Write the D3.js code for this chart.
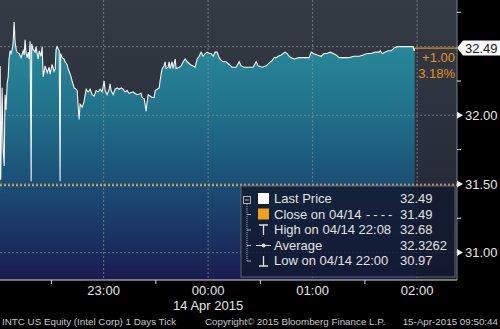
<!DOCTYPE html>
<html>
<head>
<meta charset="utf-8">
<script src="https://cdn.jsdelivr.net/npm/d3@7"></script>
<style>
  body { margin: 0; background: #000; }
  svg { display: block; font-family: "Liberation Sans", Arial, sans-serif; }
</style>
</head>
<body>
<div id="chart"></div>
<script>
// Intraday ticks, minutes after 22:00 (14 Apr) and price
const tickMinutes = [
  0, 0.6, 0.9, 1.7, 2.3, 2.9, 3.4, 4.0, 4.6, 5.2, 5.7, 6.3, 6.9, 7.5, 8.0, 8.6, 9.2, 9.8, 10.3, 11.5,
  12.6, 13.8, 14.4, 14.9, 15.5, 16.1, 16.7, 17.2, 17.8, 18.4, 18.7, 19.5, 20.7, 21.2, 21.8, 22.4, 23.0, 24.1, 24.7, 25.3,
  26.4, 27.6, 28.7, 29.3, 30.4, 31.6, 32.2, 32.7, 33.3, 34.5, 35.0, 35.3, 36.2, 37.3, 37.9, 39.0, 39.6, 40.8, 41.3, 41.9,
  43.1, 44.2, 44.8, 45.9, 46.5, 47.7, 48.8, 49.4, 50.0, 51.1, 52.3, 53.4, 54.5, 55.7, 56.8, 58.0, 59.1, 60.3, 60.9, 62.0,
  63.2, 63.7, 64.3, 65.5, 66.6, 67.8, 68.9, 70.1, 71.2, 72.3, 73.5, 74.6, 76.9, 79.2, 81.5, 82.1, 83.3, 84.4, 85.0, 85.6,
  86.7, 87.9, 89.0, 89.6, 90.7, 91.9, 92.4, 93.0, 93.6, 94.7, 95.3, 95.9, 97.0, 97.6, 98.2, 99.3, 99.9, 101.1, 101.6, 103.4,
  104.5, 105.7, 106.8, 108.0, 109.7, 111.4, 112.5, 113.7, 114.8, 116.0, 117.1, 118.3, 119.4, 120.6, 121.7, 122.9, 124.0, 125.2, 126.3, 127.5,
  128.6, 130.3, 132.1, 133.8, 136.1, 137.8, 139.0, 140.7, 143.5, 145.8, 147.6, 148.7, 151.0, 153.3, 155.0, 156.8, 157.9, 159.1, 160.2, 161.9,
  163.1, 164.2, 165.4, 166.5, 167.7, 169.4, 172.3, 175.1, 178.0, 179.2, 180.3, 182.6, 184.9, 186.6, 188.3, 190.1, 191.8, 193.5, 195.2, 198.1,
  201.0, 203.8, 206.7, 209.0, 211.3, 213.6, 215.9, 218.2, 218.8, 219.9, 221.6, 223.4, 225.1, 226.8, 228.5, 230.2, 232.0, 233.7, 235.4, 236.6,
  237.7, 238.3, 238.6
];
const tickPrices = [
  30.97, 32.36, 31.53, 32.20, 31.75, 31.63, 32.15, 32.04, 32.23, 32.28, 32.41, 32.47, 32.45, 32.48, 32.52, 32.68, 32.53, 32.48, 32.46, 32.45,
  32.42, 32.47, 32.44, 32.55, 32.45, 32.42, 32.46, 32.41, 32.54, 31.52, 32.52, 32.48, 32.46, 32.50, 32.45, 32.41, 32.47, 32.43, 32.50, 32.28,
  32.36, 32.31, 32.35, 32.30, 32.37, 32.32, 32.34, 32.48, 32.50, 32.47, 31.52, 32.45, 32.42, 32.41, 32.39, 32.37, 32.34, 32.30, 32.28, 32.25,
  32.20, 32.19, 32.18, 31.97, 32.08, 32.06, 32.10, 32.15, 32.19, 32.17, 32.19, 32.15, 32.14, 32.18, 32.17, 32.19, 32.17, 32.25, 32.18, 32.15,
  32.19, 32.23, 32.18, 32.15, 32.19, 32.20, 32.19, 32.20, 32.19, 32.17, 32.18, 32.16, 32.17, 32.15, 32.16, 32.13, 32.12, 32.03, 32.10, 32.15,
  32.14, 32.13, 32.13, 32.18, 32.19, 32.20, 32.25, 32.30, 32.34, 32.36, 32.39, 32.34, 32.35, 32.39, 32.34, 32.39, 32.34, 32.41, 32.34, 32.35,
  32.36, 32.39, 32.41, 32.39, 32.37, 32.36, 32.35, 32.41, 32.43, 32.46, 32.43, 32.45, 32.46, 32.45, 32.45, 32.43, 32.46, 32.46, 32.42, 32.40,
  32.39, 32.39, 32.37, 32.35, 32.35, 32.39, 32.36, 32.35, 32.35, 32.35, 32.39, 32.36, 32.35, 32.36, 32.38, 32.40, 32.42, 32.42, 32.43, 32.44,
  32.45, 32.46, 32.45, 32.43, 32.42, 32.41, 32.42, 32.42, 32.42, 32.46, 32.45, 32.44, 32.43, 32.45, 32.45, 32.46, 32.45, 32.44, 32.42, 32.42,
  32.42, 32.43, 32.43, 32.44, 32.45, 32.45, 32.46, 32.46, 32.47, 32.45, 32.46, 32.47, 32.47, 32.49, 32.50, 32.50, 32.50, 32.50, 32.50, 32.50,
  32.50, 32.47, 32.49
];

const lastPrice = 32.49;
const prevClose = 31.49;
const changeLabels = ["+1.00", "3.18%"];

const hourTicks = [60, 120, 180, 240];
const hourLabels = ["23:00", "00:00", "01:00", "02:00"];
const halfHourTicks = [30, 90, 150, 210];
const dateLabel = "14 Apr 2015";

const priceTicks = [31.0, 31.5, 32.0];
const priceMinorTicks = [31.25, 31.75, 32.25, 32.75];
const gridPrices = [31.0, 31.5, 32.0, 32.5];

const legendNames = ["Last Price", "Close on 04/14", "High on 04/14 22:08", "Average", "Low on 04/14 22:00"];
const legendSuffix = ["", "----", "", "", ""];
const legendValues = ["32.49", "31.49", "32.68", "32.3262", "30.97"];
const legendIcons = ["white", "close", "high", "avg", "low"];

const footerLeft = "INTC US Equity (Intel Corp) 1 Days  Tick";
const footerMid = "Copyright\u00a9 2015 Bloomberg Finance L.P.";
const footerRight = "15-Apr-2015 09:50:44";

const width = 500, height = 329;
const plotW = 457, plotH = 280;

const svg = d3.select("#chart").append("svg")
  .attr("width", width)
  .attr("height", height);

const defs = svg.append("defs");

const bgGrad = defs.append("linearGradient")
  .attr("id", "bg-grad")
  .attr("gradientUnits", "userSpaceOnUse")
  .attr("x1", 0).attr("y1", 0).attr("x2", 0).attr("y2", plotH);
bgGrad.append("stop").attr("offset", "0").attr("stop-color", "#353b45");
bgGrad.append("stop").attr("offset", "0.5").attr("stop-color", "#2a303b");
bgGrad.append("stop").attr("offset", "1").attr("stop-color", "#1a1d2c");

const areaGrad = defs.append("linearGradient")
  .attr("id", "area-grad")
  .attr("gradientUnits", "userSpaceOnUse")
  .attr("x1", 0).attr("y1", 0).attr("x2", 0).attr("y2", plotH);
areaGrad.append("stop").attr("offset", "0.1").attr("stop-color", "#2b8e9e");
areaGrad.append("stop").attr("offset", "0.4").attr("stop-color", "#21718a");
areaGrad.append("stop").attr("offset", "0.68").attr("stop-color", "#1b4b74");
areaGrad.append("stop").attr("offset", "1").attr("stop-color", "#1a1b4f");

defs.append("clipPath").attr("id", "plot-clip")
  .append("rect").attr("width", plotW).attr("height", plotH);

// Scales (first tick sits right on the left edge)
const x = d3.scaleLinear().domain([0.5, 262.9]).range([0, plotW]);
const y = d3.scaleLinear().domain([30.8, 32.84]).range([plotH, 0]);

const data = tickMinutes.map((m, i) => ({ m: m, p: tickPrices[i] }));

// Plot background
svg.append("rect")
  .attr("width", plotW)
  .attr("height", plotH)
  .attr("fill", "url(#bg-grad)");

const plot = svg.append("g").attr("clip-path", "url(#plot-clip)");

const area = d3.area()
  .x(d => x(d.m))
  .y0(plotH)
  .y1(d => y(d.p));

const line = d3.line()
  .x(d => x(d.m))
  .y(d => y(d.p));

plot.append("path")
  .attr("d", area(data))
  .attr("fill", "url(#area-grad)");

// Grid
plot.append("g")
  .selectAll("line")
  .data(gridPrices)
  .join("line")
  .attr("x1", 0).attr("x2", plotW)
  .attr("y1", d => y(d)).attr("y2", d => y(d))
  .attr("stroke", "#8a939e")
  .attr("stroke-opacity", 0.7)
  .attr("stroke-dasharray", "2,2");

plot.append("g")
  .selectAll("line")
  .data(hourTicks)
  .join("line")
  .attr("x1", d => x(d)).attr("x2", d => x(d))
  .attr("y1", 0).attr("y2", plotH)
  .attr("stroke", "#8a939e")
  .attr("stroke-opacity", 0.7)
  .attr("stroke-dasharray", "2,2");

plot.append("path")
  .attr("d", line(data))
  .attr("fill", "none")
  .attr("stroke", "#f4f6f6")
  .attr("stroke-width", 1.1);

// Previous close line
svg.append("line")
  .attr("x1", 0).attr("x2", plotW)
  .attr("y1", y(prevClose)).attr("y2", y(prevClose))
  .attr("stroke", "#d8a54a")
  .attr("stroke-width", 2)
  .attr("stroke-dasharray", "2,2");

// Last price line to axis
const lastPt = data[data.length - 1];
svg.append("line")
  .attr("x1", x(lastPt.m)).attr("x2", plotW)
  .attr("y1", y(lastPrice)).attr("y2", y(lastPrice))
  .attr("stroke", "#e08a1e")
  .attr("stroke-width", 1.2);

svg.selectAll(".chg")
  .data(changeLabels)
  .join("text")
  .attr("class", "chg")
  .attr("x", plotW - 2)
  .attr("y", (d, i) => y(lastPrice) + 14 + i * 16)
  .attr("text-anchor", "end")
  .attr("fill", "#e6921e")
  .attr("font-size", 13)
  .text(d => d);

// Legend
const lg = svg.append("g").attr("transform", "translate(241,186)");
lg.append("rect")
  .attr("width", 214).attr("height", 91)
  .attr("fill", "#121a30")
  .attr("fill-opacity", 0.82)
  .attr("stroke", "#5d6470")
  .attr("stroke-width", 1);

const rowY = i => 17 + i * 15.5;

// tree connector
lg.append("rect")
  .attr("x", 2.5).attr("y", 10.5).attr("width", 7).attr("height", 7)
  .attr("fill", "none").attr("stroke", "#aab0b8");
lg.append("line")
  .attr("x1", 4).attr("x2", 8).attr("y1", 14).attr("y2", 14)
  .attr("stroke", "#aab0b8");
lg.append("line")
  .attr("x1", 6).attr("x2", 6).attr("y1", 18).attr("y2", rowY(4) - 4)
  .attr("stroke", "#aab0b8").attr("stroke-dasharray", "1,1");
lg.selectAll(".branch")
  .data(d3.range(1, 5))
  .join("line")
  .attr("class", "branch")
  .attr("x1", 6).attr("x2", 10)
  .attr("y1", i => rowY(i) - 4).attr("y2", i => rowY(i) - 4)
  .attr("stroke", "#aab0b8");

const rows = lg.selectAll(".row")
  .data(legendNames)
  .join("g")
  .attr("class", "row")
  .attr("transform", (d, i) => `translate(0,${rowY(i)})`);

rows.each(function (d, i) {
  const g = d3.select(this);
  const kind = legendIcons[i];
  if (kind === "white" || kind === "close") {
    g.append("rect")
      .attr("x", 17).attr("y", -10).attr("width", 11).attr("height", 11)
      .attr("fill", kind === "white" ? "#ffffff" : "#f0a01e");
  } else if (kind === "high") {
    g.append("path").attr("d", "M18,-9H27M22.5,-9V1")
      .attr("stroke", "#e0e0e0").attr("stroke-width", 1.3).attr("fill", "none");
  } else if (kind === "avg") {
    g.append("path").attr("d", "M15,-4H30")
      .attr("stroke", "#e0e0e0").attr("stroke-width", 1);
    g.append("circle").attr("cx", 22.5).attr("cy", -4).attr("r", 2).attr("fill", "#e0e0e0");
  } else {
    g.append("path").attr("d", "M22.5,-9V1M18,1H27")
      .attr("stroke", "#e0e0e0").attr("stroke-width", 1.3).attr("fill", "none");
  }
  const t = g.append("text")
    .attr("x", 33).attr("y", 0)
    .attr("fill", "#e2e2e2")
    .attr("font-size", 13)
    .text(d);
  if (legendSuffix[i]) {
    t.append("tspan")
      .attr("x", 125)
      .attr("letter-spacing", 3)
      .text(legendSuffix[i]);
  }
  g.append("text")
    .attr("x", 159).attr("y", 0)
    .attr("fill", "#e2e2e2")
    .attr("font-size", 13)
    .text(legendValues[i]);
});

// Right axis
const yAxis = svg.append("g").attr("transform", `translate(${plotW},0)`);
yAxis.append("line")
  .attr("y1", 0).attr("y2", plotH)
  .attr("stroke", "#7a808a");
yAxis.selectAll(".minor")
  .data(priceMinorTicks)
  .join("line")
  .attr("class", "minor")
  .attr("x1", 0).attr("x2", 4)
  .attr("y1", d => y(d)).attr("y2", d => y(d))
  .attr("stroke", "#e0e0e0");
yAxis.selectAll(".major")
  .data(priceTicks)
  .join("path")
  .attr("class", "major")
  .attr("d", d => `M0,${y(d) - 3.5}L6,${y(d)}L0,${y(d) + 3.5}Z`)
  .attr("fill", "#f0f0f0");
yAxis.selectAll(".plabel")
  .data(priceTicks)
  .join("text")
  .attr("class", "plabel")
  .attr("x", 8)
  .attr("y", d => y(d))
  .attr("dy", "0.36em")
  .attr("fill", "#e6e6e6")
  .attr("font-size", 13)
  .text(d => d3.format(".2f")(d));

// Last price marker
const ly = y(lastPrice);
yAxis.append("path")
  .attr("d", `M0,${ly}L6,${ly - 7.5}H43V${ly + 7.5}H6Z`)
  .attr("fill", "#f8f8f8");
yAxis.append("text")
  .attr("x", 8).attr("y", ly)
  .attr("dy", "0.36em")
  .attr("fill", "#1a1a1a")
  .attr("font-size", 13)
  .text(d3.format(".2f")(lastPrice));

// Bottom axis
const xAxis = svg.append("g").attr("transform", `translate(0,${plotH})`);
xAxis.append("line")
  .attr("x1", 0).attr("x2", plotW)
  .attr("stroke", "#d8d8d8").attr("stroke-width", 1.2);
xAxis.selectAll(".xminor")
  .data(halfHourTicks)
  .join("line")
  .attr("class", "xminor")
  .attr("x1", d => x(d)).attr("x2", d => x(d))
  .attr("y1", 0).attr("y2", 4)
  .attr("stroke", "#d8d8d8");
xAxis.selectAll(".xlabel")
  .data(hourTicks)
  .join("text")
  .attr("class", "xlabel")
  .attr("x", d => x(d))
  .attr("y", 15)
  .attr("text-anchor", "middle")
  .attr("fill", "#e6e6e6")
  .attr("font-size", 13)
  .text((d, i) => hourLabels[i]);
xAxis.append("text")
  .attr("x", x(hourTicks[1]))
  .attr("y", 30)
  .attr("text-anchor", "middle")
  .attr("fill", "#e6e6e6")
  .attr("font-size", 13)
  .text(dateLabel);

// Footer
const footer = svg.append("g").attr("font-size", 9.8).attr("fill", "#c8c8c8");
footer.append("text").attr("x", 2).attr("y", 325).text(footerLeft);
footer.append("text").attr("x", 205).attr("y", 325).text(footerMid);
footer.append("text").attr("x", 498).attr("y", 325).attr("text-anchor", "end").text(footerRight);
</script>
</body>
</html>
